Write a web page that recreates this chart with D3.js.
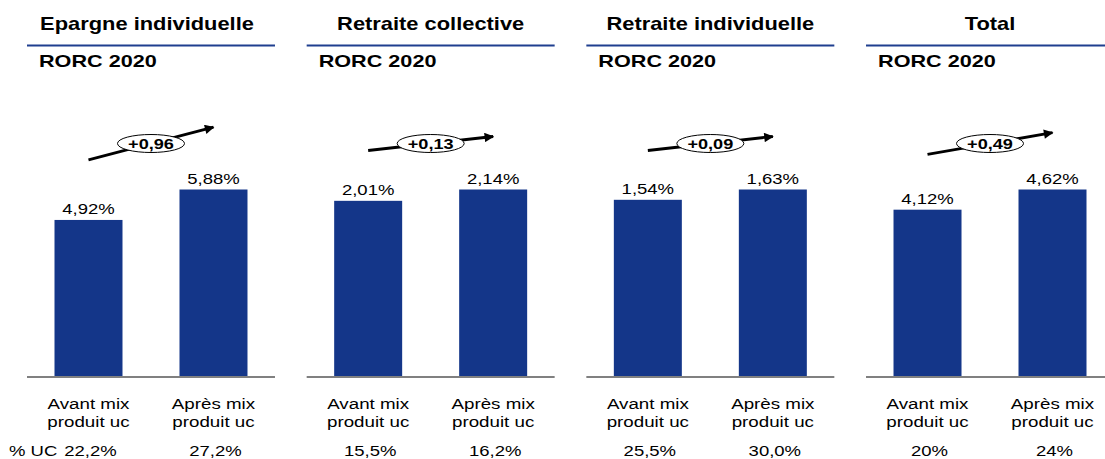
<!DOCTYPE html>
<html>
<head>
<meta charset="utf-8">
<script src="https://cdn.jsdelivr.net/npm/d3@7"></script>
<style>
  html, body { margin: 0; padding: 0; background: #fff; }
  svg { display: block; font-family: "Liberation Sans", Arial, sans-serif; }
</style>
</head>
<body>
<svg id="chart" width="1105" height="459"></svg>
<script>
// ---- data ----
const panels = ["Epargne individuelle", "Retraite collective", "Retraite individuelle", "Total"];
const subtitle = "RORC 2020";
const categories = ["Avant", "Après"];
const categoryLines = [["Avant mix", "produit uc"], ["Après mix", "produit uc"]];
const avantValues = [4.92, 2.01, 1.54, 4.12];
const apresValues = [5.88, 2.14, 1.63, 4.62];
const avantLabels = ["4,92%", "2,01%", "1,54%", "4,12%"];
const apresLabels = ["5,88%", "2,14%", "1,63%", "4,62%"];
const deltaLabels = ["+0,96", "+0,13", "+0,09", "+0,49"];
const ucLabel = "% UC";
const ucAvant = ["22,2%", "15,5%", "25,5%", "20%"];
const ucApres = ["27,2%", "16,2%", "30,0%", "24%"];

// ---- layout ----
const W = 1105, H = 459;
const SX = 1.25; // horizontal stretch of the original text
const barColor = "#143689";
const ruleColor = "#1f3f8f";

const svg = d3.select("#chart");
const defs = svg.append("defs");
defs.append("marker")
  .attr("id", "arrowhead")
  .attr("viewBox", "0 0 10 10")
  .attr("refX", 9).attr("refY", 5)
  .attr("markerWidth", 4.2).attr("markerHeight", 3.4)
  .attr("markerUnits", "strokeWidth")
  .attr("orient", "auto")
  .append("path").attr("d", "M0,0 L10,5 L0,10 z").attr("fill", "#000");

const panelX = d3.scaleBand().domain(panels).range([27, 1114]).paddingInner(0.1133).paddingOuter(0);
const pw = panelX.bandwidth();
const x = d3.scaleBand().domain(categories).range([0, pw]).paddingInner(0.456).paddingOuter(0.22);
const baseY = 376, topY = 189.5;

function stretchText(sel, tx, ty, txt, size, weight, anchor) {
  return sel.append("text")
    .attr("transform", `translate(${tx},${ty}) scale(${SX},1)`)
    .attr("text-anchor", anchor || "middle")
    .attr("font-size", size)
    .attr("font-weight", weight || "normal")
    .attr("fill", "#000")
    .text(txt);
}

panels.forEach((p, i) => {
  const g = svg.append("g").attr("transform", `translate(${panelX(p)},0)`);
  const vals = [avantValues[i], apresValues[i]];
  const labs = [avantLabels[i], apresLabels[i]];
  const ucs = [ucAvant[i], ucApres[i]];
  const y = d3.scaleLinear().domain([0, d3.max(vals)]).range([baseY, topY]);

  // title and rule
  stretchText(g, pw / 2 - (i === 0 ? 4 : 0), 30, p, 17.5, "bold");
  g.append("line")
    .attr("x1", 0).attr("x2", i === panels.length - 1 ? W - panelX(p) : pw)
    .attr("y1", 45.5).attr("y2", 45.5)
    .attr("stroke", ruleColor).attr("stroke-width", 2);
  stretchText(g, 12, 67, subtitle, 17.3, "bold", "start");

  // bars
  g.selectAll("rect.bar").data(vals).join("rect")
    .attr("class", "bar")
    .attr("x", (d, j) => x(categories[j]))
    .attr("width", x.bandwidth())
    .attr("y", d => y(d))
    .attr("height", d => baseY - y(d))
    .attr("fill", barColor);

  // value labels
  vals.forEach((d, j) => {
    stretchText(g, x(categories[j]) + x.bandwidth() / 2, y(d) - 6, labs[j], 14.8);
  });

  // baseline
  g.append("line")
    .attr("x1", 0).attr("x2", pw)
    .attr("y1", baseY + 1).attr("y2", baseY + 1)
    .attr("stroke", "#808080").attr("stroke-width", 2);

  // category labels
  categories.forEach((c, j) => {
    const cx = x(c) + x.bandwidth() / 2;
    categoryLines[j].forEach((ln, k) => {
      stretchText(g, cx, 409 + k * 18, ln, 15);
    });
    stretchText(g, cx + 2, 455.5, ucs[j], 14.8);
  });

  // arrow with delta ellipse
  const x1 = x(categories[0]) + x.bandwidth() / 2;
  const x2 = x(categories[1]) + x.bandwidth() / 2;
  const rise = Math.max(14, (y(vals[0]) - y(vals[1])) * 1.07);
  const midY = 143.5;
  g.append("line")
    .attr("x1", x1).attr("y1", midY + rise / 2)
    .attr("x2", x2).attr("y2", midY - rise / 2)
    .attr("stroke", "#000").attr("stroke-width", 2.8)
    .attr("marker-end", "url(#arrowhead)");
  const ex = (x1 + x2) / 2;
  g.append("ellipse")
    .attr("cx", ex).attr("cy", midY)
    .attr("rx", 33.5).attr("ry", 9)
    .attr("fill", "#fff").attr("stroke", "#000").attr("stroke-width", 1);
  stretchText(g, ex, midY + 5.5, deltaLabels[i], 14.5, "bold");
});

// % UC label
stretchText(svg, 9, 455.5, ucLabel, 14.8, "normal", "start");
</script>
</body>
</html>
